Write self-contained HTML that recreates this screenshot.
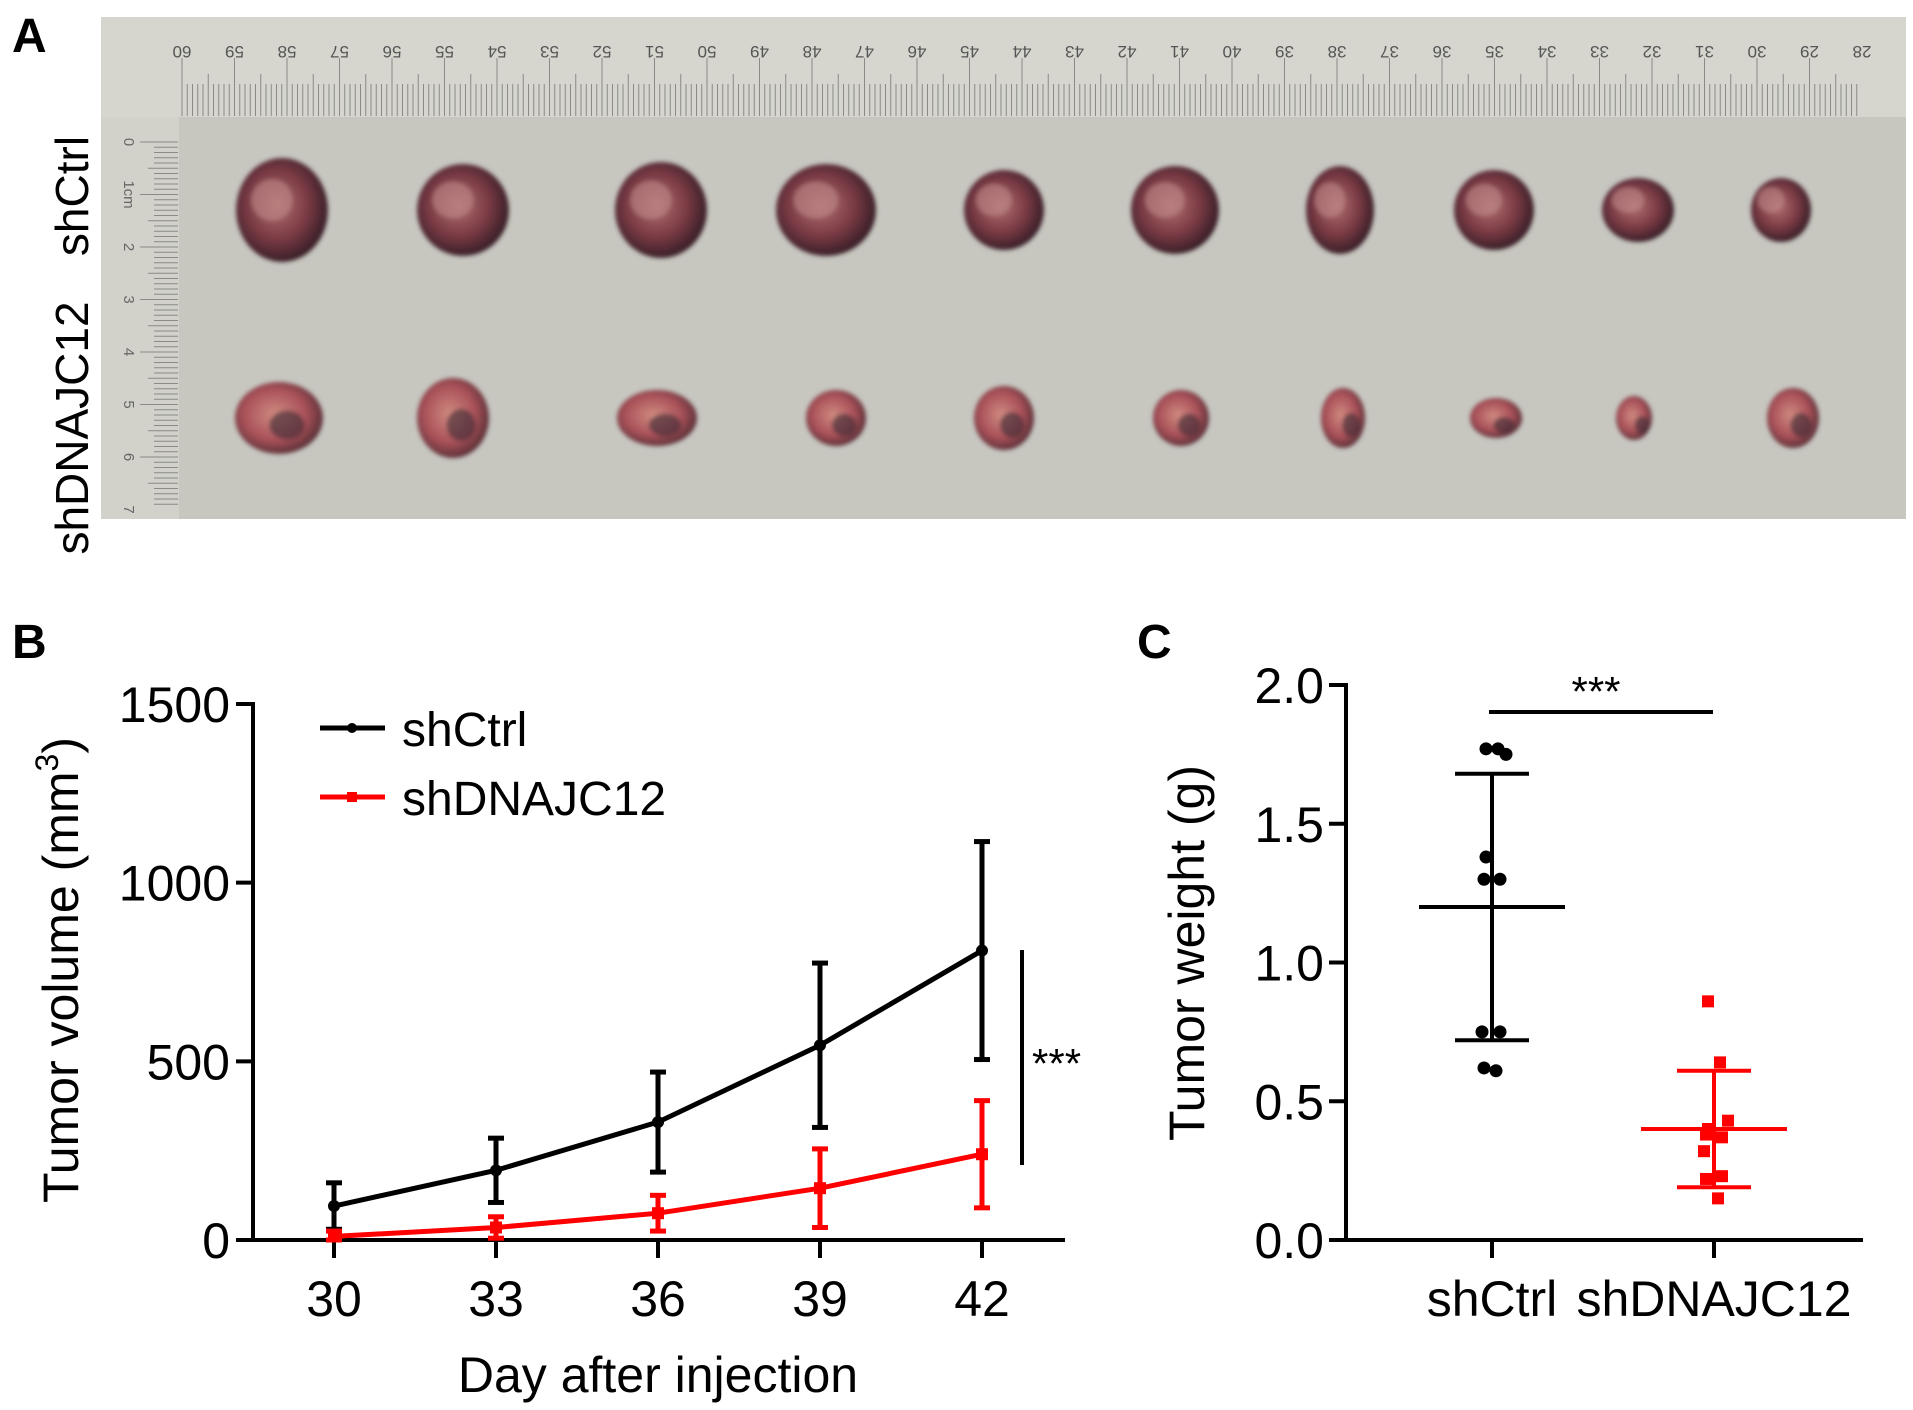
<!DOCTYPE html>
<html><head><meta charset="utf-8"><style>
html,body{margin:0;padding:0;background:#fff;}
svg{display:block;font-family:"Liberation Sans",Arial,sans-serif;}
</style></head><body>
<svg id="fig" width="1913" height="1410" viewBox="0 0 1913 1410">
<defs>
<radialGradient id="tg" cx="45%" cy="45%" r="60%"><stop offset="0" stop-color="#b07070"/><stop offset="0.55" stop-color="#7a3a44"/><stop offset="1" stop-color="#2c1a22"/></radialGradient>
<radialGradient id="tg2" cx="45%" cy="45%" r="60%"><stop offset="0" stop-color="#d08a80"/><stop offset="0.6" stop-color="#a85058"/><stop offset="1" stop-color="#4a2a30"/></radialGradient>
<filter id="blur"><feGaussianBlur stdDeviation="2"/></filter>
</defs>
<g>
<text x="12" y="52" font-size="48" font-weight="bold">A</text>
<rect x="101" y="17" width="1805" height="502" fill="#c7c7c0"/>
<rect x="101" y="17" width="1805" height="100" fill="#d6d6cf"/>
<rect x="101" y="117" width="78" height="402" fill="#d2d2cb"/>
<g id="topruler"></g>
<g id="leftruler"></g>
<g id="tumors" filter="url(#blur)"></g>
<text transform="translate(88,196) rotate(-90)" font-size="46" text-anchor="middle">shCtrl</text>
<text transform="translate(88,428) rotate(-90)" font-size="46" text-anchor="middle">shDNAJC12</text>
</g>
<g id="panelB">
<text x="12" y="658" font-size="48" font-weight="bold">B</text>
</g>
<g id="panelC">
<text x="1137" y="658" font-size="48" font-weight="bold">C</text>
</g>
</svg>
<script>
const NS='http://www.w3.org/2000/svg';
// Panel B data
const days=[30,33,36,39,42];
const ctrlMean=[95,195,330,545,810];
const ctrlSD=[65,90,140,230,305];
const kdMean=[10,35,75,145,240];
const kdSD=[15,30,50,110,150];
const bTicks=[0,500,1000,1500];
// Panel C data
const cGroups=['shCtrl','shDNAJC12'];
const ctrlW=[1.77,1.77,1.75,1.38,1.30,1.30,0.75,0.75,0.62,0.61];
const kdW=[0.86,0.64,0.43,0.40,0.38,0.37,0.32,0.23,0.22,0.15];
const ctrlStats=[1.20,1.68,0.72];
const kdStats=[0.40,0.61,0.19];
const cTicks=[0.0,0.5,1.0,1.5,2.0];
const cTickLabels=['0.0','0.5','1.0','1.5','2.0'];

function mk(tag,attrs,parent,txt){const e=document.createElementNS(NS,tag);for(const k in attrs)e.setAttribute(k,attrs[k]);if(txt!==undefined)e.textContent=txt;parent.appendChild(e);return e;}

const tr=document.getElementById('topruler');
for(let i=0;i<=32;i++){const n=60-i;const x=182+i*52.5;
 const t=mk('text',{transform:`translate(${x},46) rotate(180)`,'font-size':17,'text-anchor':'middle',fill:'#555'},tr,String(n));
 
 
 for(let j=0;j<10&&i<32;j++){const xx=x+j*5.25;mk('line',{x1:xx,x2:xx,y1:j==0?58:(j==5?74:84),y2:116,stroke:'#8a8a86','stroke-width':1},tr);}
}
const lr=document.getElementById('leftruler');
for(let i=0;i<=7;i++){const y=142+i*52.5;
 mk('text',{transform:`translate(124,${y}) rotate(90)`,'font-size':15,'text-anchor':'middle',fill:'#666'},lr,i==1?'1cm':String(i));
 for(let j=0;j<10&&i<7;j++){const yy=y+j*5.25;mk('line',{x1:j==0?140:(j==5?148:154),x2:178,y1:yy,y2:yy,stroke:'#8a8a86','stroke-width':1},lr);}
}
const tg=document.getElementById('tumors');
const r1x=[282,463,661,826,1004,1175,1340,1494,1638,1781],r1=[[46,52],[46,46],[46,48],[50,46],[40,40],[44,44],[34,44],[40,40],[36,32],[30,32]];
const r2x=[279,453,657,836,1004,1181,1343,1496,1634,1793],r2=[[44,36],[36,40],[40,28],[30,28],[30,32],[28,28],[22,30],[26,20],[18,22],[26,30]];
r1x.forEach((x,i)=>{mk('ellipse',{cx:x,cy:210,rx:r1[i][0],ry:r1[i][1],fill:'url(#tg)'},tg);mk('ellipse',{cx:x-10,cy:200,rx:r1[i][0]*0.45,ry:r1[i][1]*0.4,fill:'#c08888',opacity:0.6},tg);});
r2x.forEach((x,i)=>{mk('ellipse',{cx:x,cy:418,rx:r2[i][0],ry:r2[i][1],fill:'url(#tg2)'},tg);mk('ellipse',{cx:x+8,cy:425,rx:r2[i][0]*0.4,ry:r2[i][1]*0.4,fill:'#3a2a34',opacity:0.6},tg);});

// Panel B
const B=document.getElementById('panelB');
const bx=d=>334+(d-30)*(982-334)/12;
const by=v=>1240-v*(1240-704)/1500;
mk('line',{x1:253,y1:702,x2:253,y2:1242,stroke:'#000','stroke-width':4},B);
mk('line',{x1:251,y1:1240,x2:1065,y2:1240,stroke:'#000','stroke-width':4},B);
bTicks.forEach(v=>{mk('line',{x1:236,x2:253,y1:by(v),y2:by(v),stroke:'#000','stroke-width':4},B);
 const t=mk('text',{x:230,y:by(v)+18,'font-size':50,'text-anchor':'end'},B,String(v));
 
 });
days.forEach(d=>{mk('line',{x1:bx(d),x2:bx(d),y1:1240,y2:1258,stroke:'#000','stroke-width':4},B);
 const t=mk('text',{x:bx(d),y:1316,'font-size':50,'text-anchor':'middle'},B,String(d));
 
 });
let t=mk('text',{x:658,y:1392,'font-size':50,'text-anchor':'middle'},B,'Day after injection');

t=mk('text',{transform:'translate(78,970) rotate(-90)','font-size':50,'text-anchor':'middle'},B);

t.innerHTML='Tumor volume (mm<tspan font-size="32" dy="-20">3</tspan><tspan dy="20">)</tspan>';
function series(mean,sd,color,name,sq){
 const g=mk('g',{},B);
 mk('polyline',{points:days.map((d,i)=>bx(d)+','+by(mean[i])).join(' '),fill:'none',stroke:color,'stroke-width':5},g);
 days.forEach((d,i)=>{const x=bx(d);const yt=by(mean[i]+sd[i]),yb=by(Math.max(0,mean[i]-sd[i]));
  const e=mk('g',{},g);
  mk('line',{x1:x,x2:x,y1:yt,y2:yb,stroke:color,'stroke-width':5},e);
  mk('line',{x1:x-8,x2:x+8,y1:yt,y2:yt,stroke:color,'stroke-width':5},e);
  mk('line',{x1:x-8,x2:x+8,y1:yb,y2:yb,stroke:color,'stroke-width':5},e);
  const p=sq?mk('rect',{x:x-6,y:by(mean[i])-6,width:12,height:12,fill:color},e):mk('circle',{cx:x,cy:by(mean[i]),r:6,fill:color},e);
  });
}
series(ctrlMean,ctrlSD,'#000','series-shctrl',false);
series(kdMean,kdSD,'#ff0000','series-shdnajc12',true);
let lg=mk('g',{},B);
mk('line',{x1:320,x2:385,y1:728,y2:728,stroke:'#000','stroke-width':5},lg);mk('circle',{cx:352,cy:728,r:5,fill:'#000'},lg);
mk('text',{x:402,y:746,'font-size':48},lg,'shCtrl');
lg=mk('g',{},B);
mk('line',{x1:320,x2:385,y1:797,y2:797,stroke:'#ff0000','stroke-width':5},lg);mk('rect',{x:347,y:792,width:10,height:10,fill:'#ff0000'},lg);
mk('text',{x:402,y:815,'font-size':48},lg,'shDNAJC12');
mk('line',{x1:1022,x2:1022,y1:950,y2:1165,stroke:'#000','stroke-width':4},B);
t=mk('text',{x:1032,y:1078,'font-size':42},B,'***');

// Panel C
const C=document.getElementById('panelC');
const cx=i=>[1492,1714][i];
const cy=v=>1240-v*(1240-685)/2.0;
const CAX=1346;
mk('line',{x1:CAX,y1:683,x2:CAX,y2:1242,stroke:'#000','stroke-width':4},C);
mk('line',{x1:CAX-2,y1:1240,x2:1863,y2:1240,stroke:'#000','stroke-width':4},C);
cTicks.forEach((v,i)=>{mk('line',{x1:CAX-17,x2:CAX,y1:cy(v),y2:cy(v),stroke:'#000','stroke-width':4},C);
 const t=mk('text',{x:CAX-22,y:cy(v)+18,'font-size':50,'text-anchor':'end'},C,cTickLabels[i]);
 });
cGroups.forEach((g,i)=>{mk('line',{x1:cx(i),x2:cx(i),y1:1240,y2:1258,stroke:'#000','stroke-width':4},C);
 const t=mk('text',{x:cx(i),y:1316,'font-size':50,'text-anchor':'middle'},C,g);
 });
t=mk('text',{transform:'translate(1204,953) rotate(-90)','font-size':50,'text-anchor':'middle'},C,'Tumor weight (g)');

const jit=[-6,6,14,-6,-8,8,-10,8,-8,4];
function group(vals,stats,i,color,name,sq){
 const g=mk('g',{},C);
 const x=cx(i);
 vals.forEach((v,k)=>{const xx=x+jit[k];const p=sq?mk('rect',{x:xx-6,y:cy(v)-6,width:12,height:12,fill:color},g):mk('circle',{cx:xx,cy:cy(v),r:6.5,fill:color},g);
  });
 mk('line',{x1:x,x2:x,y1:cy(stats[1]),y2:cy(stats[2]),stroke:color,'stroke-width':4},g);
 mk('line',{x1:x-73,x2:x+73,y1:cy(stats[0]),y2:cy(stats[0]),stroke:color,'stroke-width':4},g);
 mk('line',{x1:x-37,x2:x+37,y1:cy(stats[1]),y2:cy(stats[1]),stroke:color,'stroke-width':4},g);
 mk('line',{x1:x-37,x2:x+37,y1:cy(stats[2]),y2:cy(stats[2]),stroke:color,'stroke-width':4},g);
}
group(ctrlW,ctrlStats,0,'#000','group-shctrl',false);
group(kdW,kdStats,1,'#ff0000','group-shdnajc12',true);
mk('line',{x1:1489,x2:1713,y1:712,y2:712,stroke:'#000','stroke-width':4},C);
t=mk('text',{x:1596,y:706,'font-size':42,'text-anchor':'middle'},C,'***');
</script>
</body></html>
